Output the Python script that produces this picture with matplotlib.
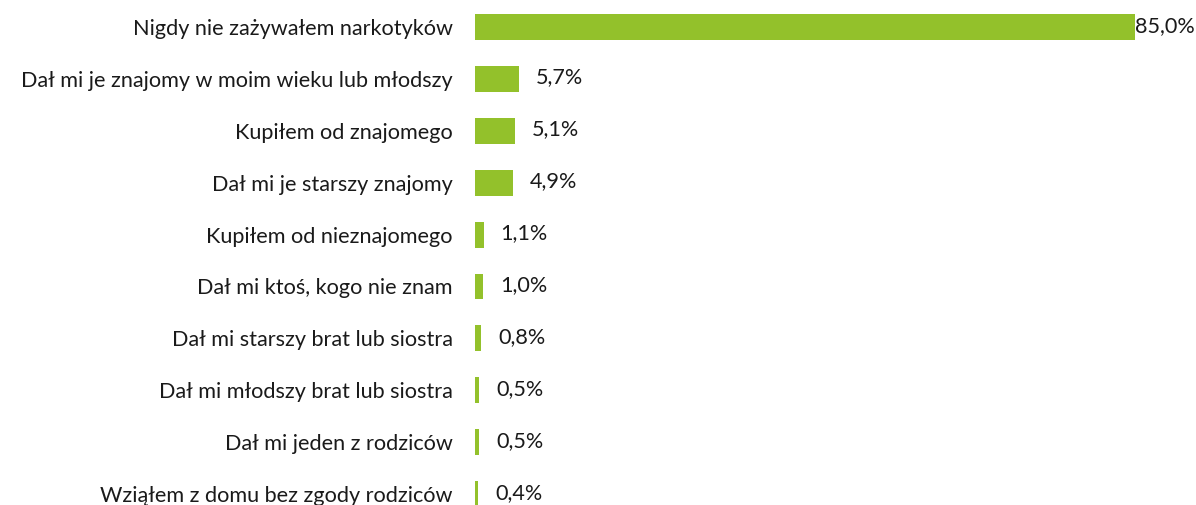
import matplotlib
matplotlib.use("Agg")
import matplotlib.pyplot as plt

kategorie = ["Nigdy nie zażywałem narkotyków",
             "Dał mi je znajomy w moim wieku lub młodszy",
             "Kupiłem od znajomego",
             "Dał mi je starszy znajomy",
             "Kupiłem od nieznajomego",
             "Dał mi ktoś, kogo nie znam",
             "Dał mi starszy brat lub siostra",
             "Dał mi młodszy brat lub siostra",
             "Dał mi jeden z rodziców",
             "Wziąłem z domu bez zgody rodziców"]
wartosci = [85.0, 5.7, 5.1, 4.9, 1.1, 1.0, 0.8, 0.5, 0.5, 0.4]

plt.rcParams['font.family'] = ['Lato', 'DejaVu Sans']
zielony = '#93C12B'
kolor_tekstu = '#1a1a1a'

fig = plt.figure(figsize=(11.96, 5.05), dpi=100)
ax = fig.add_axes([475/1196, 0, 660/1196, 1])

pozycje = list(range(len(kategorie)))
ax.barh(pozycje, wartosci, height=0.5, color=zielony)
ax.set_xlim(0, 85)
ax.set_ylim(9.21, -0.52)
ax.set_yticks(pozycje)
ax.set_yticklabels(kategorie, fontsize=15.6, color=kolor_tekstu)
ax.tick_params(axis='y', length=0, pad=16)
ax.set_xticks([])
for s in ax.spines.values():
    s.set_visible(False)

# etykiety wartosci - najdluzszy slupek ma etykiete tuz przy koncu
for p, v in zip(pozycje, wartosci):
    tekst = f'{v:.1f}%'.replace('.', ',')
    przesun = 0 if v > 80 else 17
    ax.annotate(tekst, (v, p), xytext=(przesun * 0.72, 1), textcoords='offset points',
                va='center', ha='left', fontsize=15.6, color=kolor_tekstu,
                annotation_clip=False)

fig.savefig('out.png', dpi=100)
